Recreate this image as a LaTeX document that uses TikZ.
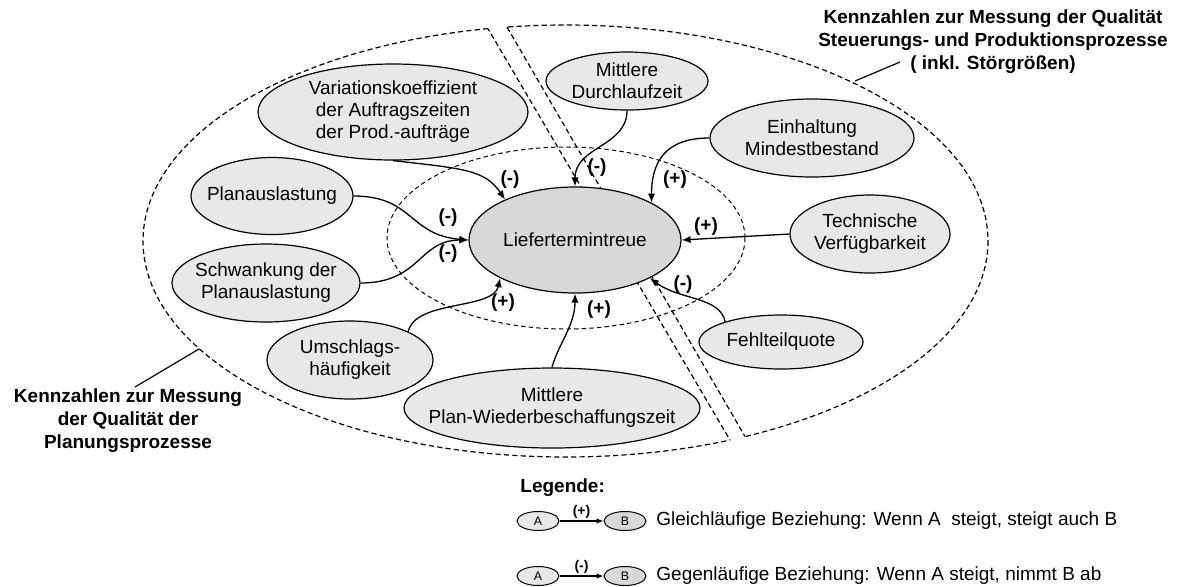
\documentclass[tikz,border=0pt]{standalone}
\usepackage{fontspec}
\setmainfont{Liberation Sans}
\usetikzlibrary{shapes.geometric,arrows.meta}
\definecolor{nodefill}{RGB}{232,232,232}
\definecolor{corefill}{RGB}{216,216,216}
\begin{document}
\begin{tikzpicture}[x=0.5pt,y=-0.5pt,
  kz/.style={ellipse, draw, line width=0.6pt, fill=nodefill, inner sep=-40pt,
    align=center, font=\fontsize{9.5}{11}\selectfont},
  core/.style={kz, fill=corefill},
  link/.style={line width=0.65pt, -{Latex[length=4.5pt,width=3.6pt]}},
  sign/.style={font=\fontsize{9.5}{11}\selectfont\bfseries, inner sep=0pt},
  region/.style={line width=0.6pt, dash pattern=on 2.6pt off 1.6pt},
  zone/.style={line width=0.5pt, dash pattern=on 2.2pt off 1.6pt},
  caption/.style={font=\fontsize{9.5}{11.5}\selectfont\bfseries, align=center, inner sep=0pt},
  leader/.style={line width=0.6pt},
  mini/.style={ellipse, draw, line width=0.5pt, fill=nodefill, inner sep=-20pt,
    minimum width=21pt, minimum height=9.5pt, font=\fontsize{6.2}{7}\selectfont},
  minisign/.style={font=\fontsize{7}{8}\selectfont\bfseries, inner sep=0pt},
  minilink/.style={line width=0.6pt, -{Latex[length=3.5pt,width=2.8pt]}},
  legtext/.style={font=\fontsize{9.5}{11}\selectfont, inner sep=0pt, anchor=west}
]
\path[use as bounding box] (0,0) rectangle (1178,586);

% planning side of the outer ellipse
\begin{scope}
  \clip (435.8,-60) -- (835.9,620) -- (-100,620) -- (-100,-60) -- cycle;
  \draw[region] (565.5,241) ellipse [x radius=422.5, y radius=216];
\end{scope}
\begin{scope}
  \clip (565.5,241) ellipse [x radius=422.5, y radius=216];
  \draw[region] (435.8,-60) -- (835.9,620);
\end{scope}

% control / production side of the outer ellipse
\begin{scope}
  \clip (456.4,-60) -- (851.7,620) -- (1300,620) -- (1300,-60) -- cycle;
  \draw[region] (565.5,241) ellipse [x radius=422.5, y radius=216];
\end{scope}
\begin{scope}
  \clip (565.5,241) ellipse [x radius=422.5, y radius=216];
  \draw[region] (456.4,-60) -- (851.7,620);
\end{scope}

% inner zone around the target figure
\draw[zone] (566,238) ellipse [x radius=179, y radius=91];

% key figures
\node[core, minimum width=106pt, minimum height=53pt] (core) at (575,240) {Liefertermintreue};
\node[kz, minimum width=135pt, minimum height=48pt] (var) at (393,112)
  {Variationskoeffizient\\der Auftragszeiten\\der Prod.-aufträge};
\node[kz, minimum width=81pt, minimum height=29pt] (durch) at (627,81) {Mittlere\\Durchlaufzeit};
\node[kz, minimum width=102pt, minimum height=39pt] (einh) at (812,138) {Einhaltung\\Mindestbestand};
\node[kz, minimum width=80pt, minimum height=39pt] (tech) at (870,234) {Technische\\Verfügbarkeit};
\node[kz, minimum width=82pt, minimum height=27pt] (fehl) at (781,342) {Fehlteilquote};
\node[kz, minimum width=148pt, minimum height=40pt] (mpw) at (552,408) {Mittlere\\Plan-Wiederbeschaffungszeit};
\node[kz, minimum width=83pt, minimum height=39pt] (umsch) at (350,360) {Umschlags-\\häufigkeit};
\node[kz, minimum width=94pt, minimum height=39pt] (schw) at (266,283) {Schwankung der\\Planauslastung};
\node[kz, minimum width=81pt, minimum height=38.5pt] (plan) at (272,196) {Planauslastung};

% influences on the target figure
\draw[link] (var.south) .. controls +(70,8) and +(-20,-30) .. (core.150);
\draw[link] (plan.east) .. controls +(60,0) and +(-60,-5) .. (core.west);
\draw[link] (schw.east) .. controls +(60,0) and +(-50,0) .. (core.west);
\draw[link] (umsch.26) .. controls +(7,-32) and +(-7,32) .. (core.207);
\draw[link] (mpw.north) .. controls +(6,-23) and +(0,32) .. (core.south);
\draw[link] (fehl.160) .. controls +(-5,-25) and +(30,22) .. (core.333);
\draw[link] (tech.west) -- (core.east);
\draw[link] (einh.west) .. controls +(-45,0) and +(0,-40) .. (core.26);
\draw[link] (durch.south) .. controls +(0,36) and +(0,-40) .. (core.north);

% signs of the influences
\node[sign] (s1) at (510,180) {(-)};
\node[sign] (s2) at (448,218) {(-)};
\node[sign] (s3) at (448,254) {(-)};
\node[sign] (s4) at (503,303) {(+)};
\node[sign] (s5) at (599,310) {(+)};
\node[sign] (s6) at (683,285) {(-)};
\node[sign] (s7) at (706,227) {(+)};
\node[sign] (s8) at (675,180) {(+)};
\node[sign] (s9) at (597,168) {(-)};

% captions of both sides
\node[caption] (captr) at (993,42)
  {Kennzahlen zur Messung der Qualität\\Steuerungs- und Produktionsprozesse\\( inkl. Störgrößen)};
\coordinate (ltr1) at (855,81);
\coordinate (ltr2) at (900,62);
\draw[leader] (ltr1) -- (ltr2);

\node[caption] (capl) at (128,421)
  {Kennzahlen zur Messung\\der Qualität der\\Planungsprozesse};
\coordinate (lpl1) at (199,349);
\coordinate (lpl2) at (135,387);
\draw[leader] (lpl1) -- (lpl2);

% legend
\node[caption, anchor=west] (leg) at (520,488) {Legende:};
\node[mini] (a1) at (538,521) {A};
\node[mini, fill=corefill] (b1) at (625,521) {B};
\draw[minilink] (a1) -- node[minisign, above=1pt] {(+)} (b1);
\node[legtext] (t1) at (656,521) {Gleichläufige Beziehung: Wenn A \ steigt, steigt auch B};

\node[mini] (a2) at (538,576) {A};
\node[mini, fill=corefill] (b2) at (625,576) {B};
\draw[minilink] (a2) -- node[minisign, above=1pt] {(-)} (b2);
\node[legtext] (t2) at (656,576) {Gegenläufige Beziehung: Wenn A steigt, nimmt B ab};
\end{tikzpicture}
\end{document}
